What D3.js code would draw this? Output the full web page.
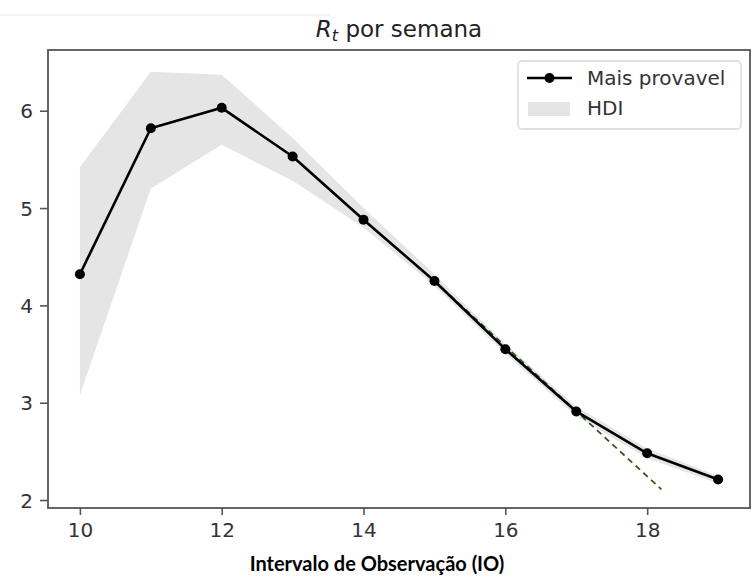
<!DOCTYPE html>
<html>
<head>
<meta charset="utf-8">
<script src="https://cdn.jsdelivr.net/npm/d3@7"></script>
<style>
  html, body { margin: 0; padding: 0; background: #fff; }
  svg { display: block; }
</style>
</head>
<body>
<svg id="chart" width="756" height="585"></svg>
<script>
// ---- data ----
const weeks    = [10, 11, 12, 13, 14, 15, 16, 17, 18, 19];
const rtMost   = [4.32, 5.82, 6.03, 5.53, 4.88, 4.25, 3.55, 2.91, 2.48, 2.21];
const hdiLow   = [3.08, 5.20, 5.65, 5.28, 4.80, 4.20, 3.50, 2.86, 2.43, 2.17];
const hdiHigh  = [5.42, 6.40, 6.37, 5.72, 5.00, 4.32, 3.60, 2.96, 2.53, 2.25];
const trendX   = [15, 18.2];
const trendY   = [4.25, 2.11];
const xTicks   = [10, 12, 14, 16, 18];
const yTicks   = [2, 3, 4, 5, 6];
const legendLabels = ["Mais provavel", "HDI"];
const xLabel   = "Intervalo de Observação (IO)";

// ---- layout ----
const svg = d3.select("#chart");
const mLeft = 48, mRight = 750, mTop = 50, mBottom = 508;
const x = d3.scaleLinear().domain([9.55, 19.45]).range([mLeft, mRight]);
const y = d3.scaleLinear().domain([1.918, 6.624]).range([mBottom, mTop]);

const tickFont = "'DejaVu Sans', sans-serif";

// faint artifact line at top
svg.append("line").attr("x1", 0).attr("x2", 330).attr("y1", 15).attr("y2", 15)
  .attr("stroke", "#f2f2f2").attr("stroke-width", 1.5);

// HDI band
const band = weeks.map((w, i) => ({x: w, lo: hdiLow[i], hi: hdiHigh[i]}));
svg.append("path")
  .datum(band)
  .attr("fill", "#e5e5e5")
  .attr("d", d3.area().x(d => x(d.x)).y0(d => y(d.lo)).y1(d => y(d.hi)));

// trend dashed line
const trend = trendX.map((v, i) => ({x: v, y: trendY[i]}));
svg.append("path")
  .datum(trend)
  .attr("fill", "none")
  .attr("stroke", "#2f5a1e")
  .attr("stroke-width", 1.8)
  .attr("stroke-dasharray", "6,4.5")
  .attr("d", d3.line().x(d => x(d.x)).y(d => y(d.y)));

// main line
const pts = weeks.map((w, i) => ({x: w, y: rtMost[i]}));
svg.append("path")
  .datum(pts)
  .attr("fill", "none")
  .attr("stroke", "#000")
  .attr("stroke-width", 2.6)
  .attr("stroke-linejoin", "round")
  .attr("d", d3.line().x(d => x(d.x)).y(d => y(d.y)));
svg.append("g").selectAll("circle").data(pts).join("circle")
  .attr("cx", d => x(d.x)).attr("cy", d => y(d.y)).attr("r", 5)
  .attr("fill", "#000");

// axes
const xAxis = svg.append("g").attr("transform", `translate(0,${mBottom})`)
  .call(d3.axisBottom(x).tickValues(xTicks).tickSize(7).tickPadding(8).tickFormat(d3.format("d")));
const yAxis = svg.append("g").attr("transform", `translate(${mLeft},0)`)
  .call(d3.axisLeft(y).tickValues(yTicks).tickSize(8).tickPadding(7).tickFormat(d3.format("d")));
[xAxis, yAxis].forEach(g => {
  g.select(".domain").remove();
  g.selectAll(".tick line").attr("stroke", "#555").attr("stroke-width", 1.6);
  g.selectAll(".tick text").attr("fill", "#333").style("font-family", tickFont).style("font-size", "20px");
});
xAxis.selectAll(".tick text").attr("dy", "0.72em");
yAxis.selectAll(".tick text").attr("dy", "0.36em");

// frame
svg.append("rect").attr("x", mLeft).attr("y", mTop)
  .attr("width", mRight - mLeft).attr("height", mBottom - mTop)
  .attr("fill", "none").attr("stroke", "#555").attr("stroke-width", 1.8);

// title
const title = svg.append("text")
  .attr("x", (mLeft + mRight) / 2).attr("y", 37)
  .attr("text-anchor", "middle")
  .style("font-family", tickFont).style("font-size", "23px").attr("fill", "#222");
title.append("tspan").text("R").style("font-style", "italic");
title.append("tspan").text("t").style("font-style", "italic").style("font-size", "16px").attr("dy", 4);
title.append("tspan").text(" por semana").attr("dy", -4);

// legend
const lg = svg.append("g");
lg.append("rect").attr("x", 518).attr("y", 61).attr("width", 223).attr("height", 68)
  .attr("rx", 4).attr("fill", "#fff").attr("fill-opacity", 0.85)
  .attr("stroke", "#d6d6d6").attr("stroke-width", 1.3);
lg.append("line").attr("x1", 527).attr("x2", 572).attr("y1", 78).attr("y2", 78)
  .attr("stroke", "#000").attr("stroke-width", 2.6);
lg.append("circle").attr("cx", 549.5).attr("cy", 78).attr("r", 5).attr("fill", "#000");
lg.append("rect").attr("x", 528).attr("y", 102).attr("width", 42).attr("height", 14).attr("fill", "#e5e5e5");
lg.selectAll("text.lt").data(legendLabels).join("text")
  .attr("class", "lt")
  .attr("x", 587).attr("y", (d, i) => i === 0 ? 85 : 115)
  .style("font-family", tickFont).style("font-size", "20px").attr("fill", "#333")
  .text(d => d);

// x label
svg.append("text")
  .attr("x", 377).attr("y", 571)
  .attr("text-anchor", "middle")
  .style("font-family", "Lato, 'Open Sans', sans-serif")
  .style("font-weight", "bold").style("font-size", "20px").attr("fill", "#000")
  .text(xLabel);
</script>
</body>
</html>
